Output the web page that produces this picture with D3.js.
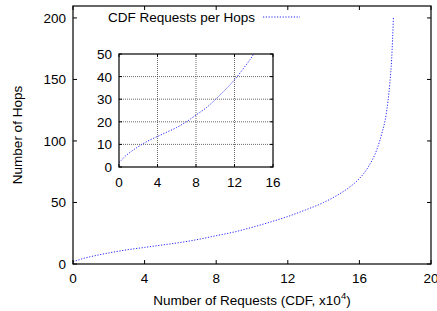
<!DOCTYPE html>
<html>
<head>
<meta charset="utf-8">
<script src="https://cdn.jsdelivr.net/npm/d3@7"></script>
<style>
  body { margin: 0; background: #fff; }
  text { font-family: "Liberation Sans", Arial, sans-serif; font-size: 13.5px; fill: #000; }
</style>
</head>
<body>
<svg id="chart" width="437" height="311"></svg>
<script>
// CDF of requests (x10^4) vs number of hops
const requests = [0, 0.25, 0.5, 1, 2, 3, 4, 5, 6, 7, 8, 9, 10, 11, 12, 13, 14, 15, 15.5, 16, 16.5, 17, 17.25, 17.5, 17.7, 17.8, 17.9];
const hops     = [2, 3, 4.2, 6, 9, 11.5, 13.5, 15.5, 17.5, 20, 23, 26, 29.8, 34, 38.6, 44, 50, 58, 63, 69.5, 79, 94, 106, 122, 147, 166, 200];
const mainXTicks = [0, 4, 8, 12, 16, 20];
const mainYTicks = [0, 50, 100, 150, 200];
const insetXTicks = [0, 4, 8, 12, 16];
const insetYTicks = [0, 10, 20, 30, 40, 50];
const seriesName = "CDF Requests per Hops";

const points = requests.map((r, i) => ({x: r, y: hops[i]}));
const svg = d3.select("#chart");
const lineColor = "#2626ff";
const dots = "1.2,1.6";

// main plot
var x = d3.scaleLinear().domain([0, 20]).range([73, 431]);
var y = d3.scaleLinear().domain([0, 209.7]).range([264, 6]);

var main = svg.append("g");
main.append("clipPath").attr("id", "clipMain")
  .append("rect").attr("x", 73).attr("y", 6).attr("width", 358).attr("height", 258);

main.append("path")
  .datum(points)
  .attr("clip-path", "url(#clipMain)")
  .attr("fill", "none")
  .attr("stroke", lineColor)
  .attr("stroke-width", 1)
  .attr("stroke-dasharray", dots)
  .attr("d", d3.line().x(d => x(d.x)).y(d => y(d.y)).curve(d3.curveMonotoneX));

// ticks, inward on all four sides
function ticksInside(g, xs, ys, xsc, ysc, len) {
  const [x0, x1] = xsc.range();
  const [y0, y1] = ysc.range();
  xs.forEach(t => {
    g.append("line").attr("x1", xsc(t)).attr("x2", xsc(t)).attr("y1", y0).attr("y2", y0 - len).attr("stroke", "#000");
    g.append("line").attr("x1", xsc(t)).attr("x2", xsc(t)).attr("y1", y1).attr("y2", y1 + len).attr("stroke", "#000");
  });
  ys.forEach(t => {
    g.append("line").attr("x1", x0).attr("x2", x0 + len).attr("y1", ysc(t)).attr("y2", ysc(t)).attr("stroke", "#000");
    g.append("line").attr("x1", x1).attr("x2", x1 - len).attr("y1", ysc(t)).attr("y2", ysc(t)).attr("stroke", "#000");
  });
}
ticksInside(main, mainXTicks, mainYTicks, x, y, 4);

main.append("rect")
  .attr("x", 73).attr("y", 6).attr("width", 358).attr("height", 258)
  .attr("fill", "none").attr("stroke", "#000").attr("stroke-width", 1.2);

main.selectAll(".xl").data(mainXTicks).enter().append("text")
  .attr("x", d => x(d)).attr("y", 283).attr("text-anchor", "middle").text(d => d);
main.selectAll(".yl").data(mainYTicks).enter().append("text")
  .attr("x", 66).attr("y", d => y(d) + 5).attr("text-anchor", "end").text(d => d);

main.append("text").attr("x", 252).attr("y", 305).attr("text-anchor", "middle")
  .html('Number of Requests (CDF, x10<tspan dy="-6" font-size="9.5">4</tspan><tspan dy="6">)</tspan>');
main.append("text")
  .attr("transform", "translate(22,135) rotate(-90)")
  .attr("text-anchor", "middle").text("Number of Hops");

// legend
main.append("text").attr("x", 255).attr("y", 22).attr("text-anchor", "end").text(seriesName);
main.append("line").attr("x1", 263).attr("x2", 300).attr("y1", 17).attr("y2", 17)
  .attr("stroke", lineColor).attr("stroke-dasharray", dots);

// inset
var xi = d3.scaleLinear().domain([0, 16]).range([119, 273]);
var yi = d3.scaleLinear().domain([0, 50]).range([167, 54]);
var inset = svg.append("g");
inset.append("rect").attr("x", 119).attr("y", 54).attr("width", 154).attr("height", 113).attr("fill", "#fff");

insetXTicks.slice(1, -1).forEach(t => {
  inset.append("line").attr("x1", xi(t)).attr("x2", xi(t)).attr("y1", 54).attr("y2", 167)
    .attr("stroke", "#444").attr("stroke-width", 0.8).attr("stroke-dasharray", "1,1");
});
insetYTicks.slice(1, -1).forEach(t => {
  inset.append("line").attr("x1", 119).attr("x2", 273).attr("y1", yi(t)).attr("y2", yi(t))
    .attr("stroke", "#444").attr("stroke-width", 0.8).attr("stroke-dasharray", "1,1");
});

inset.append("clipPath").attr("id", "clipInset")
  .append("rect").attr("x", 119).attr("y", 54).attr("width", 154).attr("height", 113);
inset.append("path")
  .datum(points)
  .attr("clip-path", "url(#clipInset)")
  .attr("fill", "none")
  .attr("stroke", lineColor)
  .attr("stroke-width", 1)
  .attr("stroke-dasharray", dots)
  .attr("d", d3.line().x(d => xi(d.x)).y(d => yi(d.y)).curve(d3.curveMonotoneX));

ticksInside(inset, insetXTicks, insetYTicks, xi, yi, 3);
inset.append("rect").attr("x", 119).attr("y", 54).attr("width", 154).attr("height", 113)
  .attr("fill", "none").attr("stroke", "#000").attr("stroke-width", 1.2);

inset.selectAll(".xl").data(insetXTicks).enter().append("text")
  .attr("x", d => xi(d)).attr("y", 187).attr("text-anchor", "middle").text(d => d);
inset.selectAll(".yl").data(insetYTicks).enter().append("text")
  .attr("x", 112).attr("y", d => yi(d) + 5).attr("text-anchor", "end").text(d => d);
</script>
</body>
</html>
